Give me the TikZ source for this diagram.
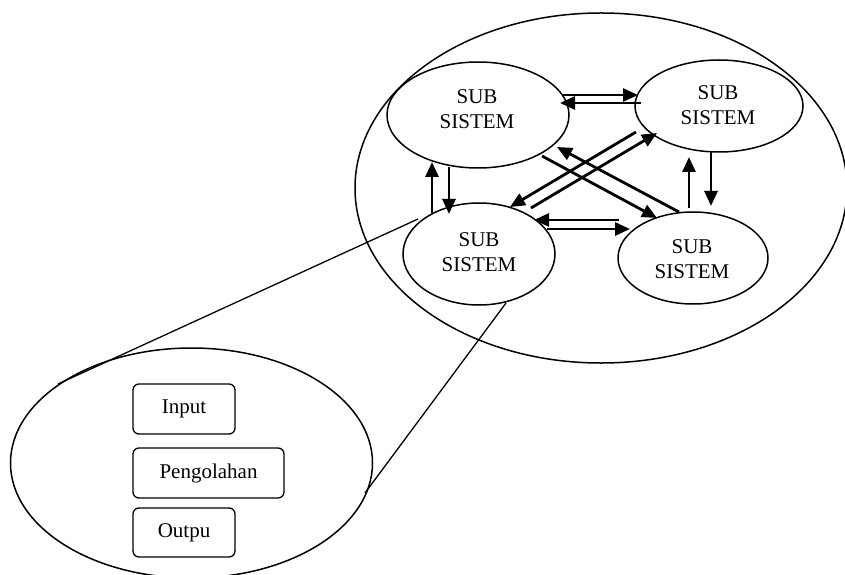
\documentclass[tikz,border=0pt]{standalone}
\usepackage{fontspec}
\setmainfont{Liberation Serif}
\usetikzlibrary{arrows.meta,calc,shapes.geometric}
\begin{document}
\begin{tikzpicture}[x=1bp,y=-1bp,
  ell/.style={draw, ellipse, line width=1.5bp, inner sep=0pt},
  lbl/.style={align=center, font=\fontsize{21bp}{25bp}\selectfont, inner sep=0pt},
  box/.style={draw, rounded corners=6bp, line width=1.3bp, inner sep=0pt,
              font=\fontsize{21bp}{25bp}\selectfont},
  arr/.style={line width=2.8bp, -{Triangle[length=15bp,width=13bp]}},
  zl/.style={line width=1.3bp}]
\useasboundingbox (0,0) rectangle (845,575);
\fill[white] (0,0) rectangle (845,575);

% system and subsystems
\node[ell, minimum width=492bp, minimum height=350bp] (sys) at (601,188) {};
\node[ell, minimum width=182bp, minimum height=106bp] (tl) at (478,115) {};
\node[ell, minimum width=168bp, minimum height=92bp]  (tr) at (719,106) {};
\node[ell, minimum width=152bp, minimum height=102bp] (bl) at (479,254) {};
\node[ell, minimum width=150bp, minimum height=92bp]  (br) at (693,258) {};

\node[lbl] (tlt) at (477,109.5) {SUB\\SISTEM};
\node[lbl] (trt) at (718,105.5) {SUB\\SISTEM};
\node[lbl] (blt) at (479,252.5) {SUB\\SISTEM};
\node[lbl] (brt) at (692,259.5) {SUB\\SISTEM};

% detail ellipse
\node[ell, minimum width=362bp, minimum height=230bp] (det) at (191.5,463) {};
\node[box, minimum width=102bp, minimum height=50bp] (in)  at (184,409)   {Input};
\node[box, minimum width=151bp, minimum height=50bp] (pro) at (208.5,473) {Pengolahan};
\node[box, minimum width=102bp, minimum height=49bp] (out) at (184,532.5) {Outpu};

% zoom lines
\coordinate (za) at ($(bl.center)+(-61,-35)$);
\coordinate (zb) at ($(det.center)+(-133.5,-79)$);
\coordinate (zc) at ($(bl.center)+(27,49)$);
\coordinate (zd) at ($(det.center)+(173.5,30)$);
\draw[zl] (za) -- (zb);
\draw[zl] (zc) -- (zd);

% arrows
\draw[arr] ($(tl.center)+(85,-20)$) -- ($(tr.center)+(-81,-11)$);
\draw[arr] ($(tr.center)+(-78,-3)$) -- ($(tl.center)+(82,-12)$);
\draw[arr] ($(tl.center)+(-29,52)$) -- ($(bl.center)+(-30,-40)$);
\draw[arr] ($(bl.center)+(-47,-41)$) -- ($(tl.center)+(-46,47)$);
\draw[arr] ($(tr.center)+(-83,26)$) -- ($(bl.center)+(31,-47)$);
\draw[arr] ($(bl.center)+(52,-46)$) -- ($(tr.center)+(-62,27)$);
\draw[arr] ($(tl.center)+(64,41)$) -- ($(br.center)+(-36,-40)$);
\draw[arr] ($(br.center)+(-14,-46)$) -- ($(tl.center)+(79,32)$);
\draw[arr] ($(tr.center)+(-8,46)$) -- ($(br.center)+(18,-52)$);
\draw[arr] ($(br.center)+(-4,-50)$) -- ($(tr.center)+(-30,51)$);
\draw[arr] ($(bl.center)+(68,-25)$) -- ($(br.center)+(-63,-29)$);
\draw[arr] ($(br.center)+(-74,-38)$) -- ($(bl.center)+(55,-34)$);
\end{tikzpicture}
\end{document}
